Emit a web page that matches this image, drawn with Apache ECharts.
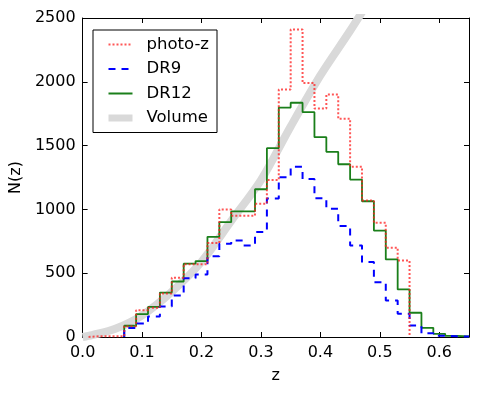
<!DOCTYPE html>
<html>
<head>
<meta charset="utf-8">
<script src="https://cdn.jsdelivr.net/npm/echarts@6/dist/echarts.min.js"></script>
<style>
  html, body { margin: 0; padding: 0; background: #fff; }
  #chart { width: 479px; height: 393px; }
</style>
</head>
<body>
<div id="chart"></div>
<script>
// bin edges (z), width 0.02
const binEdges = [0.01, 0.03, 0.05, 0.07, 0.09, 0.11, 0.13, 0.15, 0.17, 0.19, 0.21,
  0.23, 0.25, 0.27, 0.29, 0.31, 0.33, 0.35, 0.37, 0.39, 0.41, 0.43, 0.45, 0.47,
  0.49, 0.51, 0.53, 0.55, 0.57, 0.59, 0.61, 0.63, 0.65];

// counts per bin (null = no bin drawn)
const photoZ = [6, 6, 6, 85, 210, 230, 340, 465, 570, 570, 736, 1000, 950, 950, 1045, 1230,
  1940, 2410, 1990, 1790, 1900, 1710, 1335, 1070, 895, 700, 600, null, null, null, null, null];
const dr9 = [null, null, null, 70, 105, 160, 240, 325, 460, 490, 632, 730, 757, 718, 823, 1085,
  1252, 1335, 1238, 1088, 1006, 870, 718, 587, 430, 286, 182, 90, 30, 10, 5, 3];
const dr12 = [null, null, null, 88, 180, 236, 348, 435, 575, 595, 785, 900, 985, 985, 1158, 1480,
  1798, 1836, 1762, 1566, 1451, 1354, 1234, 1064, 834, 608, 373, 190, 72, 25, 9, 4];

// volume curve
const volZ = [0.0, 0.016, 0.055, 0.1, 0.15, 0.2, 0.25, 0.3, 0.35, 0.4, 0.45, 0.48];
const volN = [0, 15, 64, 170, 355, 590, 910, 1230, 1650, 2050, 2400, 2620];

const xTicks = [0, 0.1, 0.2, 0.3, 0.4, 0.5, 0.6];

// turn bin counts into histogram outline points
function stepData(values) {
  const pts = [];
  let open = false;
  for (let i = 0; i < values.length; i++) {
    const v = values[i];
    if (v === null) {
      if (open) { pts.push([binEdges[i], 0]); open = false; }
      continue;
    }
    if (!open) { pts.push([binEdges[i], 0]); open = true; }
    pts.push([binEdges[i], v], [binEdges[i + 1], v]);
  }
  if (open) pts.push([binEdges[values.length], 0]);
  return pts;
}

const font = 'DejaVu Sans';
const chart = echarts.init(document.getElementById('chart'));

const axisCommon = {
  axisLine: { show: true, onZero: false, lineStyle: { color: '#000', width: 1 } },
  axisTick: { show: true, inside: true, length: 5, lineStyle: { color: '#000' } },
  splitLine: { show: false }
};

chart.setOption({
  animation: false,
  grid: { left: 81, right: 10, top: 18, bottom: 56 },
  legend: {
    orient: 'vertical',
    left: 93,
    top: 30,
    padding: [6, 8, 6, 12],
    itemGap: 7.5,
    itemWidth: 24,
    itemHeight: 16,
    backgroundColor: '#fff',
    borderColor: '#000',
    borderWidth: 1,
    borderRadius: 0,
    itemStyle: { opacity: 0, borderWidth: 0 },
    textStyle: { fontFamily: font, fontSize: 16.5, color: '#000', padding: [0, 0, 0, 9] },
    data: [
      { name: 'photo-z' },
      { name: 'DR9' },
      { name: 'DR12' },
      { name: 'Volume', lineStyle: { width: 7 } }
    ]
  },
  xAxis: [
    Object.assign({
      type: 'value', min: 0, max: 0.65, interval: 0.1, position: 'bottom',
      name: 'z', nameLocation: 'middle', nameGap: 31,
      nameTextStyle: { fontFamily: font, fontSize: 16, color: '#000' },
      axisLabel: {
        fontFamily: font, fontSize: 16, color: '#000', margin: 8,
        showMaxLabel: false,
        formatter: v => (xTicks.some(t => Math.abs(t - v) < 1e-9) ? v.toFixed(1) : '')
      }
    }, axisCommon),
    Object.assign({
      type: 'value', min: 0, max: 0.65, interval: 0.1, position: 'top',
      axisLabel: { show: false }
    }, axisCommon)
  ],
  yAxis: [
    Object.assign({
      type: 'value', min: 0, max: 2500, interval: 500, position: 'left',
      name: 'N(z)', nameLocation: 'middle', nameGap: 52,
      nameTextStyle: { fontFamily: font, fontSize: 16, color: '#000' },
      axisLabel: { fontFamily: font, fontSize: 16, color: '#000', margin: 7, formatter: v => String(v) }
    }, axisCommon),
    Object.assign({
      type: 'value', min: 0, max: 2500, interval: 500, position: 'right',
      axisLabel: { show: false }
    }, axisCommon)
  ],
  series: [
    {
      name: 'Volume', type: 'line', symbol: 'none', clip: true,
      data: volZ.map((z, i) => [z, volN[i]]),
      lineStyle: { color: '#d9d9d9', width: 8 },
      itemStyle: { color: '#d9d9d9' },
      smooth: 0.3
    },
    {
      name: 'DR12', type: 'line', symbol: 'none', clip: true,
      data: stepData(dr12),
      lineStyle: { color: '#1a7f1a', width: 1.8 },
      itemStyle: { color: '#1a7f1a' }
    },
    {
      name: 'DR9', type: 'line', symbol: 'none', clip: true,
      data: stepData(dr9),
      lineStyle: { color: '#0000ff', width: 2, type: [7, 6] },
      itemStyle: { color: '#0000ff' }
    },
    {
      name: 'photo-z', type: 'line', symbol: 'none', clip: true,
      data: stepData(photoZ),
      lineStyle: { color: 'rgba(255,30,30,0.75)', width: 2, type: [2, 2] },
      itemStyle: { color: 'rgba(255,30,30,0.75)' }
    }
  ]
});
</script>
</body>
</html>
